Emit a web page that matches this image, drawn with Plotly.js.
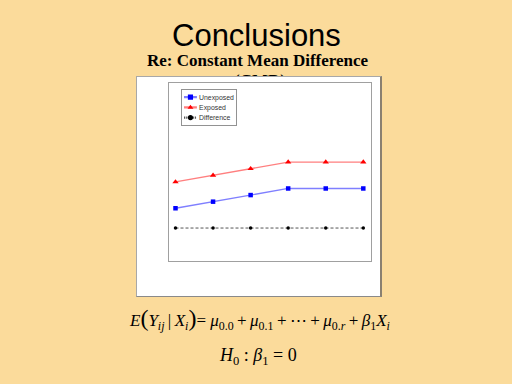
<!DOCTYPE html>
<html>
<head>
<meta charset="utf-8">
<script src="https://cdn.plot.ly/plotly-3.0.1.min.js"></script>
<style>
  html, body { margin: 0; padding: 0; overflow: hidden; background: #FBDB9B; }
  #slide { position: absolute; left: 0; top: 0; width: 512px; height: 384px; }
  #chart { position: absolute; left: 136px; top: 76px; width: 243px; height: 219px;
           border-top: 1px solid #a8a8a8; border-left: 1px solid #a8a8a8;
           border-right: 2px solid #8a8070; border-bottom: 1px solid #8a8a8a; background: #fff; }
</style>
</head>
<body>
<div id="slide"></div>
<div id="chart"></div>
<script>
// ---- data ----
const timePoints   = [1, 2, 3, 4, 5, 6];
const unexposed    = [3.0, 3.5, 4.0, 4.5, 4.5, 4.5];
const exposed      = [5.0, 5.5, 6.0, 6.5, 6.5, 6.5];
const difference   = [1.5, 1.5, 1.5, 1.5, 1.5, 1.5];
const seriesNames  = ['Unexposed', 'Exposed', 'Difference'];

const titleText    = 'Conclusions';
const subtitleText = 'Re: Constant Mean Difference';
const subtitle2    = '(CMD)';
const formula1 = '<i>E</i><span style="font-size:24px">(</span><i>Y</i><sub><i>ij</i></sub>\u2009|\u2009<i>X</i><sub><i>i</i></sub><span style="font-size:24px">)</span>= <i>μ</i><sub>0.0</sub>\u2009+\u2009<i>μ</i><sub>0.1</sub>\u2009+\u2009⋯\u2009+\u2009<i>μ</i><sub>0.<i>r</i></sub>\u2009+\u2009<i>β</i><sub>1</sub><i>X</i><sub><i>i</i></sub>';
const formula2 = '<i>H</i><sub>0</sub> : <i>β</i><sub>1</sub> = 0';

const W = 512, H = 384;
const serif = '"Liberation Serif", "Times New Roman", serif';
const sans  = '"Liberation Sans", Arial, sans-serif';

// ---- slide background with texts ----
Plotly.newPlot('slide', [], {
  width: W, height: H,
  margin: {l: 0, r: 0, t: 0, b: 0},
  paper_bgcolor: '#FBDB9B', plot_bgcolor: '#FBDB9B',
  xaxis: {visible: false, range: [0, 1]},
  yaxis: {visible: false, range: [0, 1]},
  showlegend: false,
  annotations: [
    {text: titleText, xref: 'paper', yref: 'paper', x: 256 / W, y: 1 - 35 / H,
     xanchor: 'center', yanchor: 'middle', showarrow: false,
     font: {family: sans, size: 31, color: '#000'}},
    {text: '<b>' + subtitleText + '</b>', xref: 'paper', yref: 'paper', x: 258 / W, y: 1 - 60 / H,
     xanchor: 'center', yanchor: 'middle', showarrow: false,
     font: {family: serif, size: 17, color: '#000'}},
    {text: '<b>' + subtitle2 + '</b>', xref: 'paper', yref: 'paper', x: 260 / W, y: 1 - 80 / H,
     xanchor: 'center', yanchor: 'middle', showarrow: false,
     font: {family: serif, size: 17, color: '#000'}},
    {text: formula1, xref: 'paper', yref: 'paper', x: 127 / W, y: 1 - 319 / H,
     xanchor: 'left', yanchor: 'middle', showarrow: false,
     font: {family: serif, size: 17, color: '#000'}},
    {text: formula2, xref: 'paper', yref: 'paper', x: 258 / W, y: 1 - 356 / H,
     xanchor: 'center', yanchor: 'middle', showarrow: false,
     font: {family: serif, size: 18, color: '#000'}}
  ]
}, {staticPlot: true, displayModeBar: false});

// ---- chart ----
const traces = [
  {x: timePoints, y: unexposed, name: seriesNames[0], type: 'scatter', mode: 'lines+markers',
   line: {color: '#7f7fff', width: 1.3}, marker: {symbol: 'square', size: 4.5, color: '#0000ff'}},
  {x: timePoints, y: exposed, name: seriesNames[1], type: 'scatter', mode: 'lines+markers',
   line: {color: '#ff7f7f', width: 1.3}, marker: {symbol: 'triangle-up', size: 5.5, color: '#ff0000'}},
  {x: timePoints, y: difference, name: seriesNames[2], type: 'scatter', mode: 'lines+markers',
   line: {color: '#555555', width: 1, dash: '3px,2px'}, marker: {symbol: 'circle', size: 3.5, color: '#000000'}}
];

const axisCommon = {showgrid: false, zeroline: false, showticklabels: false, ticks: '',
  showline: true, mirror: true, linecolor: '#a0a0a0', linewidth: 1, fixedrange: true};

const LEG_SCALE = 0.43;
Plotly.newPlot('chart', traces, {
  width: 243, height: 219,
  margin: {l: 32, r: 9, t: 6, b: 35},
  paper_bgcolor: '#ffffff', plot_bgcolor: '#ffffff',
  xaxis: Object.assign({range: [0.827, 6.205]}, axisCommon),
  yaxis: Object.assign({range: [-1, 12.5]}, axisCommon),
  showlegend: true,
  legend: {x: 12 / 202, y: 1 - 6 / 178, xanchor: 'left', yanchor: 'top',
    bgcolor: '#ffffff', bordercolor: '#808080', borderwidth: 2,
    itemsizing: 'constant', font: {family: sans, size: 16, color: '#333333'}}
}, {staticPlot: true, displayModeBar: false}).then(function (gd) {
  const lg = gd.querySelector('.legend');
  if (lg) {
    const t = lg.getAttribute('transform') || '';
    lg.setAttribute('transform', t + ' scale(' + LEG_SCALE + ')');
  }
});
</script>
</body>
</html>
